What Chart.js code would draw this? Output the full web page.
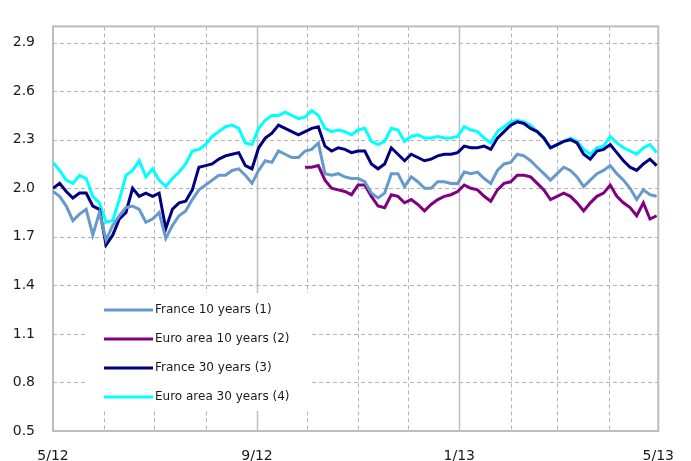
<!DOCTYPE html>
<html>
<head>
<meta charset="utf-8">
<script src="https://cdn.jsdelivr.net/npm/chart.js@4/dist/chart.umd.min.js"></script>
<style>
	html, body { margin: 0; padding: 0; background: #fff; }
	canvas { display: block; }
</style>
</head>
<body>
<canvas id="yields" width="691" height="461"></canvas>
<script>
// days counted from 1 May 2012, one reading every 4 days
const days = [
	0, 4, 8, 12, 16, 20, 24, 28, 32, 36, 40, 44, 48, 52, 56, 60, 64, 68, 72, 76, 80, 84, 88, 92,
	96, 100, 104, 108, 112, 116, 120, 124, 128, 132, 136, 140, 144, 148, 152, 156, 160, 164, 168, 172, 176, 180,
	184, 188, 192, 196, 200, 204, 208, 212, 216, 220, 224, 228, 232, 236, 240, 244, 248, 252, 256, 260, 264,
	268, 272, 276, 280, 284, 288, 292, 296, 300, 304, 308, 312, 316, 320, 324, 328, 332, 336, 340, 344, 348, 352, 356, 360, 364,
];

const france10 = [
	1.98, 1.95, 1.89, 1.80, 1.84, 1.87, 1.71, 1.85, 1.68, 1.77, 1.83, 1.88, 1.89, 1.87, 1.79, 1.81, 1.85, 1.69, 1.77, 1.83, 1.86, 1.93, 1.99, 2.02,
	2.05, 2.08, 2.08, 2.11, 2.12, 2.08, 2.03, 2.11, 2.17, 2.16, 2.23, 2.21, 2.19, 2.19, 2.23, 2.24, 2.28, 2.09, 2.08, 2.09, 2.07, 2.06,
	2.06, 2.04, 1.97, 1.94, 1.97, 2.09, 2.09, 2.01, 2.07, 2.04, 2.00, 2.00, 2.04, 2.04, 2.03, 2.03, 2.10, 2.09, 2.10, 2.06, 2.03,
	2.11, 2.15, 2.16, 2.21, 2.20, 2.17, 2.13, 2.09, 2.05, 2.09, 2.13, 2.11, 2.07, 2.01, 2.05, 2.09, 2.11, 2.14, 2.09, 2.05, 2.00, 1.93, 1.99, 1.96, 1.95,
];

// euro area 10y series only starts at the beginning of October
const euro10 = [
	null, null, null, null, null, null, null, null, null, null, null, null, null, null, null, null, null, null, null, null, null, null, null, null,
	null, null, null, null, null, null, null, null, null, null, null, null, null, null, 2.13, 2.13, 2.14, 2.05, 2.00, 1.99, 1.98, 1.96,
	2.02, 2.02, 1.95, 1.89, 1.88, 1.96, 1.95, 1.91, 1.93, 1.90, 1.86, 1.90, 1.93, 1.95, 1.96, 1.98, 2.02, 2.00, 1.99, 1.95, 1.92,
	1.99, 2.03, 2.04, 2.08, 2.08, 2.07, 2.03, 1.99, 1.93, 1.95, 1.97, 1.95, 1.91, 1.86, 1.91, 1.95, 1.97, 2.02, 1.95, 1.91, 1.88, 1.83, 1.91, 1.81, 1.83,
];

const france30 = [
	2.00, 2.03, 1.98, 1.94, 1.97, 1.97, 1.89, 1.87, 1.65, 1.71, 1.81, 1.85, 2.00, 1.95, 1.97, 1.95, 1.97, 1.75, 1.87, 1.91, 1.92, 1.99, 2.13, 2.14,
	2.15, 2.18, 2.20, 2.21, 2.22, 2.14, 2.12, 2.25, 2.31, 2.34, 2.39, 2.37, 2.35, 2.33, 2.35, 2.37, 2.38, 2.26, 2.23, 2.25, 2.24, 2.22,
	2.23, 2.23, 2.15, 2.12, 2.15, 2.25, 2.21, 2.17, 2.21, 2.19, 2.17, 2.18, 2.20, 2.21, 2.21, 2.22, 2.26, 2.25, 2.25, 2.26, 2.24,
	2.31, 2.35, 2.39, 2.41, 2.40, 2.37, 2.35, 2.31, 2.25, 2.27, 2.29, 2.30, 2.28, 2.21, 2.18, 2.23, 2.24, 2.27, 2.22, 2.17, 2.13, 2.11, 2.15, 2.18, 2.14,
];

const euro30 = [
	2.16, 2.11, 2.05, 2.03, 2.08, 2.06, 1.95, 1.91, 1.79, 1.80, 1.93, 2.08, 2.11, 2.17, 2.07, 2.12, 2.05, 2.01, 2.06, 2.10, 2.15, 2.23, 2.24, 2.27,
	2.32, 2.35, 2.38, 2.39, 2.37, 2.28, 2.27, 2.37, 2.42, 2.45, 2.45, 2.47, 2.45, 2.43, 2.44, 2.48, 2.45, 2.37, 2.35, 2.36, 2.35, 2.33,
	2.36, 2.37, 2.29, 2.27, 2.29, 2.37, 2.36, 2.29, 2.32, 2.33, 2.31, 2.31, 2.32, 2.31, 2.31, 2.32, 2.38, 2.36, 2.35, 2.31, 2.28,
	2.35, 2.38, 2.41, 2.42, 2.41, 2.39, 2.35, 2.31, 2.25, 2.27, 2.29, 2.31, 2.29, 2.24, 2.21, 2.25, 2.26, 2.32, 2.28, 2.25, 2.23, 2.21, 2.25, 2.27, 2.22,
];

// month boundaries (days since 1 May 2012) and their labels
const monthStarts = [0, 31, 61, 92, 123, 153, 184, 214, 245, 276, 304, 335, 365];
const monthLabels = ["5/12", "", "", "", "9/12", "", "", "", "1/13", "", "", "", "5/13"];
const yTicks = [0.5, 0.8, 1.1, 1.4, 1.7, 2.0, 2.3, 2.6, 2.9];

const seriesNames = ["France 10 years (1)", "Euro area 10 years (2)", "France 30 years (3)", "Euro area 30 years (4)"];
const seriesColors = ["#6699cc", "#800080", "#000080", "#00ffff"];
const seriesValues = [france10, euro10, france30, euro30];

const gridColor = "#b4b4b4";
const frameColor = "#bdbdbd";
const textColor = "#1a1a1a";

// dashed grid, solid verticals at labelled months, grey frame
const gridPlugin = {
	id: "excelGrid",
	beforeDatasetsDraw(chart) {
		const { ctx, chartArea: a, scales } = chart;
		ctx.save();
		ctx.lineWidth = 1;
		ctx.strokeStyle = gridColor;
		ctx.setLineDash([4, 3]);
		yTicks.forEach((v) => {
			const y = Math.round(scales.y.getPixelForValue(v)) + 0.5;
			ctx.beginPath();
			ctx.moveTo(a.left, y);
			ctx.lineTo(a.right, y);
			ctx.stroke();
		});
		monthStarts.forEach((d, i) => {
			if (monthLabels[i]) return;
			const x = Math.round(scales.x.getPixelForValue(d)) + 0.5;
			ctx.beginPath();
			ctx.moveTo(x, a.top);
			ctx.lineTo(x, a.bottom);
			ctx.stroke();
		});
		ctx.setLineDash([]);
		ctx.strokeStyle = frameColor;
		ctx.lineWidth = 1.5;
		monthStarts.forEach((d, i) => {
			if (!monthLabels[i] || i === 0 || i === monthStarts.length - 1) return;
			const x = Math.round(scales.x.getPixelForValue(d)) + 0.5;
			ctx.beginPath();
			ctx.moveTo(x, a.top);
			ctx.lineTo(x, a.bottom);
			ctx.stroke();
		});
		ctx.lineWidth = 2;
		ctx.strokeRect(a.left, a.top, a.right - a.left, a.bottom - a.top);
		ctx.restore();
	},
};

// legend box sitting inside the plot, lower left
const insideLegend = {
	id: "insideLegend",
	afterDatasetsDraw(chart) {
		const { ctx, chartArea: a } = chart;
		const left = a.left + 34;
		const top = a.bottom - 138;
		ctx.save();
		ctx.fillStyle = "#fff";
		ctx.fillRect(left, top, 225, 118);
		ctx.font = "12px 'DejaVu Sans'";
		ctx.textBaseline = "middle";
		chart.data.datasets.forEach((ds, i) => {
			const y = top + 17 + i * 29;
			ctx.strokeStyle = ds.borderColor;
			ctx.lineWidth = 3;
			ctx.beginPath();
			ctx.moveTo(left + 17, y);
			ctx.lineTo(left + 66, y);
			ctx.stroke();
			ctx.fillStyle = textColor;
			ctx.fillText(ds.label, left + 68, y);
		});
		ctx.restore();
	},
};

new Chart(document.getElementById("yields"), {
	type: "line",
	data: {
		labels: days,
		datasets: seriesNames.map((name, i) => ({
			label: name,
			data: seriesValues[i],
			borderColor: seriesColors[i],
			backgroundColor: seriesColors[i],
			borderWidth: 3,
			pointRadius: 0,
			tension: 0,
			spanGaps: false,
		})),
	},
	options: {
		responsive: false,
		animation: false,
		devicePixelRatio: 1,
		layout: {
			padding: { left: 10, right: 19, top: 14, bottom: 0 },
		},
		plugins: {
			legend: { display: false },
			tooltip: { enabled: false },
		},
		scales: {
			x: {
				type: "linear",
				min: 0,
				max: 365,
				afterBuildTicks: (scale) => {
					scale.ticks = monthStarts.map((v) => ({ value: v }));
				},
				afterFit: (scale) => {
					scale.height = 30;
				},
				ticks: {
					autoSkip: false,
					maxRotation: 0,
					padding: 17,
					color: textColor,
					font: { family: "'DejaVu Sans'", size: 14 },
					callback: (value, index) => monthLabels[index],
				},
				grid: { display: false, drawTicks: false },
				border: { display: false },
			},
			y: {
				min: 0.5,
				max: 3.0,
				afterBuildTicks: (scale) => {
					scale.ticks = yTicks.map((v) => ({ value: v }));
				},
				afterFit: (scale) => {
					scale.width = 43;
				},
				ticks: {
					padding: 18,
					color: textColor,
					font: { family: "'DejaVu Sans'", size: 14 },
					callback: (value) => value.toFixed(1),
				},
				grid: { display: false, drawTicks: false },
				border: { display: false },
			},
		},
	},
	plugins: [gridPlugin, insideLegend],
});
</script>
</body>
</html>
